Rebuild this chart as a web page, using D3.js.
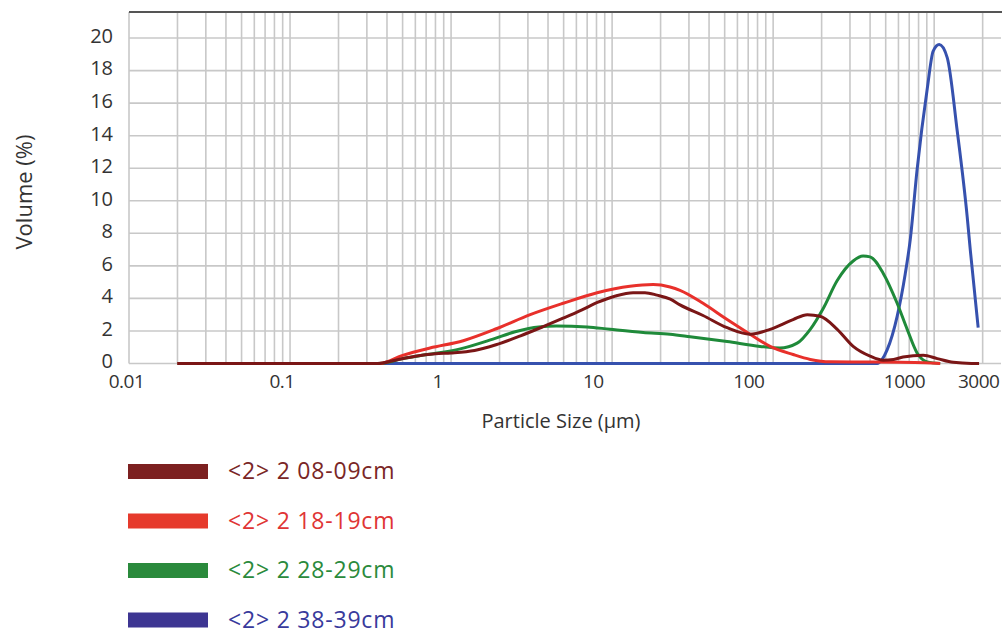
<!DOCTYPE html>
<html>
<head>
<meta charset="utf-8">
<script src="https://cdn.jsdelivr.net/npm/d3@7"></script>
<style>
  body { margin: 0; background: #fff; }
  svg { display: block; font-family: "Open Sans", sans-serif; }
</style>
</head>
<body>
<div id="chart"></div>
<script>
// ===============================
// Données
// ===============================
const seriesNames = ["<2> 2 08-09cm", "<2> 2 18-19cm", "<2> 2 28-29cm", "<2> 2 38-39cm"];

const sizes0809 = [0.02, 0.35, 0.45, 0.6, 0.8, 1.0, 1.4, 1.9, 2.7, 3.7, 5.0, 6.5, 8.1, 10.5, 13.5, 16, 19, 23, 26.4, 36.7, 51.8, 71.9, 95.7, 133, 163, 196, 250, 314, 400, 482, 560, 641, 855, 1045, 1313, 1700, 1900];
const vol0809   = [0, 0, 0.2, 0.45, 0.6, 0.65, 0.8, 1.15, 1.7, 2.25, 2.8, 3.3, 3.75, 4.15, 4.35, 4.35, 4.2, 3.95, 3.6, 2.95, 2.2, 1.8, 2.1, 2.7, 3.0, 2.9, 2.1, 1.05, 0.45, 0.2, 0.25, 0.4, 0.5, 0.3, 0.07, 0, 0];

const sizes1819 = [0.02, 0.36, 0.5, 0.74, 1.19, 1.93, 3.1, 4.97, 8.07, 12.9, 18, 22.9, 26.4, 36.7, 51.8, 71.9, 95.7, 133, 170, 226, 615, 880, 1090];
const vol1819   = [0, 0, 0.5, 0.95, 1.4, 2.15, 3.0, 3.7, 4.35, 4.75, 4.85, 4.7, 4.5, 3.7, 2.7, 1.8, 1.05, 0.55, 0.25, 0.1, 0.08, 0.05, 0];

const sizes2829 = [0.02, 0.36, 0.5, 0.71, 1.14, 1.82, 2.5, 3.5, 4.5, 7.0, 9.7, 15.6, 22.9, 30.5, 51.8, 83, 110, 141, 170, 205, 250, 314, 362, 400, 482, 589, 680, 783, 906, 1090];
const vol2829   = [0, 0, 0.3, 0.55, 0.9, 1.5, 1.95, 2.25, 2.3, 2.25, 2.1, 1.9, 1.8, 1.65, 1.35, 1.05, 0.95, 1.25, 2.1, 3.4, 5.1, 6.3, 6.6, 6.55, 5.55, 3.7, 2.1, 0.65, 0.1, 0];

const sizes3839 = [0.02, 443, 475, 511, 589, 661, 710, 783, 906, 986, 1075, 1205, 1390, 1604, 1675, 1876];
const vol3839   = [0, 0, 0.25, 0.85, 2.9, 5.5, 7.6, 11.9, 16.9, 19.2, 19.6, 18.8, 14.3, 9.0, 7.0, 2.2];

const lineColors   = ["#7a1616", "#e8302b", "#1f8a3a", "#3651ae"];
const legendColors = ["#7c2020", "#e63a2c", "#2a8a3c", "#3d3592"];
const textColors   = ["#7a2626", "#df3535", "#2a8a3c", "#383a9c"];

const xTickValues = [0.01, 0.1, 1, 10, 100, 1000, 3000];
const xTickLabels = ["0.01", "0.1", "1", "10", "100", "1000", "3000"];
const yTickValues = [0, 2, 4, 6, 8, 10, 12, 14, 16, 18, 20];

// ===============================
// Mise en page
// ===============================
const largeur = 1002, hauteur = 636;
const gauche = 129, droite = 1001, haut = 12, bas = 363.5;

const svg = d3.select("#chart").append("svg")
    .attr("width", largeur)
    .attr("height", hauteur);

const x = d3.scaleLog().domain([0.01, 2600]).range([gauche, droite]);
const y = d3.scaleLinear().domain([0, 21.6]).range([bas, haut]);
// les étiquettes de l'axe X ne sont pas tout à fait alignées sur la grille dans l'original
const xLab = d3.scaleLog().domain([0.01, 1000]).range([126, 904]);

// grille verticale (log) : 1..9 x 10^k
const gridX = [];
for (let k = -2; k <= 3; k++) {
    for (let m = 1; m <= 9; m++) {
        const v = m * Math.pow(10, k);
        if (v <= 2600) gridX.push(v);
    }
}

svg.append("g")
    .selectAll("line")
    .data(gridX)
    .join("line")
    .attr("x1", d => x(d)).attr("x2", d => x(d))
    .attr("y1", haut).attr("y2", bas)
    .attr("stroke", "#c8c8c8")
    .attr("stroke-width", 1.6);

svg.append("g")
    .selectAll("line")
    .data(yTickValues)
    .join("line")
    .attr("x1", gauche).attr("x2", droite)
    .attr("y1", d => y(d)).attr("y2", d => y(d))
    .attr("stroke", "#c8c8c8")
    .attr("stroke-width", 1.6);

// bordure du haut
svg.append("line")
    .attr("x1", gauche).attr("x2", largeur)
    .attr("y1", haut).attr("y2", haut)
    .attr("stroke", "#555")
    .attr("stroke-width", 2);

// ===============================
// Axes
// ===============================
const yAxis = svg.append("g")
    .attr("transform", `translate(${gauche - 16},-2)`)
    .call(d3.axisLeft(y).tickValues(yTickValues).tickSize(0).tickPadding(0));
yAxis.select(".domain").remove();
yAxis.selectAll("text")
    .attr("font-size", 20)
    .attr("fill", "#333")
    .attr("font-family", "'Open Sans', sans-serif");

const xAxis = svg.append("g")
    .attr("transform", `translate(0,${bas + 11})`)
    .call(d3.axisBottom(xLab).tickValues(xTickValues).tickSize(0).tickPadding(0)
        .tickFormat((d, i) => xTickLabels[i]));
xAxis.select(".domain").remove();
xAxis.selectAll("text")
    .attr("font-size", 19)
    .attr("fill", "#333")
    .attr("font-family", "'Open Sans', sans-serif")
    .attr("letter-spacing", -0.5);

svg.append("text")
    .attr("transform", "translate(32,192) rotate(-90)")
    .attr("text-anchor", "middle")
    .attr("font-size", 22)
    .attr("fill", "#333")
    .text("Volume (%)");

svg.append("text")
    .attr("x", 561)
    .attr("y", 428)
    .attr("text-anchor", "middle")
    .attr("font-size", 20)
    .attr("fill", "#333")
    .text("Particle Size (µm)");

// ===============================
// Courbes
// ===============================
const allSizes = [sizes0809, sizes1819, sizes2829, sizes3839];
const allVols = [vol0809, vol1819, vol2829, vol3839];

const ligne = d3.line()
    .x(d => x(d[0]))
    .y(d => y(d[1]))
    .curve(d3.curveMonotoneX);

// ordre de dessin : bleu en dessous, rouge foncé au-dessus
[3, 2, 1, 0].forEach(i => {
    const pts = allSizes[i].map((s, j) => [s, allVols[i][j]]);
    svg.append("path")
        .datum(pts)
        .attr("d", ligne)
        .attr("fill", "none")
        .attr("stroke", lineColors[i])
        .attr("stroke-width", 3)
        .attr("stroke-linejoin", "round");
});

// ===============================
// Légende
// ===============================
const legende = svg.append("g")
    .selectAll("g")
    .data(seriesNames)
    .join("g")
    .attr("transform", (d, i) => `translate(128,${464 + i * 49.5})`);

legende.append("rect")
    .attr("width", 80)
    .attr("height", 15)
    .attr("fill", (d, i) => legendColors[i]);

legende.append("text")
    .attr("x", 100)
    .attr("y", 15)
    .attr("font-size", 23)
    .attr("letter-spacing", 0.8)
    .attr("fill", (d, i) => textColors[i])
    .text(d => d);
</script>
</body>
</html>
